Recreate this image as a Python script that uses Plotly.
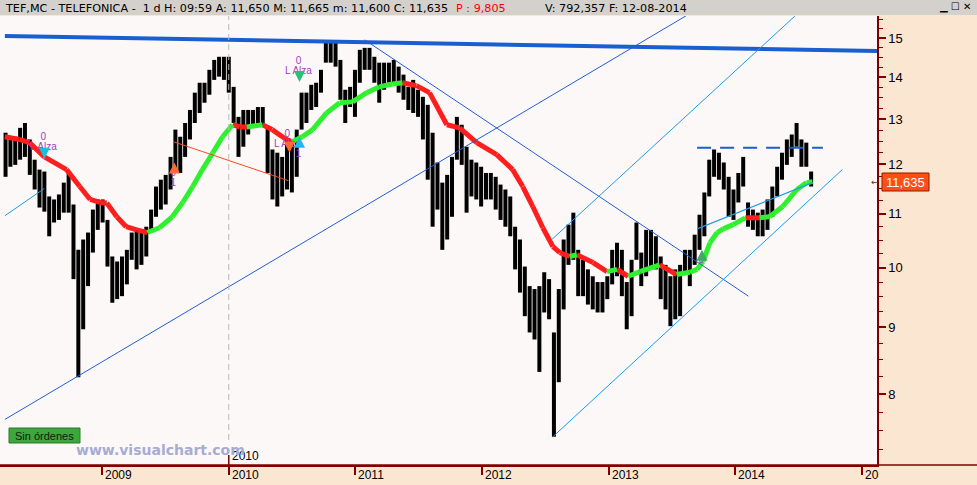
import pandas as pd
import plotly.graph_objects as go

# ---------------- data ----------------
bar_start = "2008-03-28"
bar_periods = 167          # two-week bars
highs = [12.69,12.60,12.60,12.80,12.91,12.54,12.10,11.89,11.85,11.34,
         11.28,11.38,11.62,11.85,11.18,10.32,10.51,10.64,11.08,11.28,
         11.28,10.88,10.20,10.11,10.20,10.32,10.64,10.69,10.69,10.75,
         11.08,11.54,11.68,11.78,12.16,12.76,12.60,12.91,13.21,13.62,
         13.86,13.86,14.18,14.43,14.51,14.51,14.51,13.76,13.05,13.21,
         13.21,13.21,13.28,13.28,12.82,12.32,12.25,12.16,12.54,12.47,
         12.76,13.62,13.62,13.81,13.86,14.18,14.87,14.87,14.87,14.43,
         13.69,13.76,14.18,14.69,14.74,14.74,14.51,14.36,14.36,14.36,
         14.43,14.26,14.06,13.76,13.93,13.69,13.52,13.33,12.69,12.04,
         11.62,11.78,12.16,13.05,12.87,12.38,12.10,12.04,11.95,11.82,
         11.82,11.74,11.58,11.48,11.34,10.75,10.51,10.02,9.68,9.63,
         9.68,9.92,9.80,8.92,9.63,10.51,10.79,11.02,10.32,10.14,
         9.97,9.85,9.75,9.75,9.85,10.32,10.45,10.32,9.75,10.14,
         10.83,10.27,10.69,10.69,10.57,10.20,10.05,9.85,9.97,10.05,
         10.32,10.32,10.60,10.98,11.42,12.10,12.32,12.25,12.04,11.74,
         11.48,11.82,12.16,11.22,11.08,11.02,11.08,11.28,11.54,11.95,
         12.25,12.54,12.65,12.91,12.54,12.47,11.85]
lows = [11.74,11.95,11.99,12.10,12.16,11.78,11.48,11.12,11.04,10.57,
        10.83,10.88,11.02,11.02,9.80,8.24,8.97,9.68,10.27,10.69,
        10.83,10.02,9.40,9.46,9.51,9.71,10.14,9.97,10.05,10.20,
        10.64,10.94,11.08,11.18,11.48,11.89,11.82,12.16,12.54,12.91,
        13.14,13.38,13.57,13.93,14.01,13.93,13.62,12.91,12.16,12.38,
        12.65,12.82,12.82,12.82,11.82,11.28,11.14,11.34,11.48,11.42,
        11.74,12.76,12.91,13.21,13.28,13.62,14.36,14.36,14.26,13.45,
        12.91,13.28,13.05,13.86,14.18,14.18,13.86,13.38,13.69,13.86,
        13.86,13.62,13.45,13.21,13.14,13.05,12.54,11.68,10.75,11.08,
        10.32,10.51,10.94,12.10,11.99,11.02,11.34,11.28,11.14,11.28,
        11.28,11.08,10.88,10.75,10.57,9.97,9.57,9.18,8.92,8.81,
        8.32,9.24,9.13,7.42,8.17,9.29,10.05,10.14,9.51,9.51,
        9.37,9.29,9.24,9.24,9.46,9.71,9.85,9.51,8.97,9.18,
        10.14,9.68,9.85,9.97,9.97,9.46,9.29,9.02,9.13,9.18,
        9.92,9.68,10.05,10.32,10.57,11.34,11.74,11.68,11.48,10.94,
        10.88,11.22,11.54,10.75,10.69,10.57,10.57,10.69,10.94,11.34,
        11.68,11.99,12.16,12.38,11.95,11.95,11.54]

ma_dates = ["2008-03-26","2008-05-07","2008-06-05","2008-07-18","2008-09-20","2008-10-28",
            "2008-11-27","2008-12-25","2009-01-14","2009-02-12","2009-03-11","2009-04-10",
            "2009-05-11","2009-06-15","2009-07-22","2009-08-21","2009-09-19","2009-10-17",
            "2009-11-16","2009-12-14","2010-01-12","2010-02-02","2010-02-22","2010-04-08",
            "2010-05-06","2010-06-16","2010-07-03","2010-08-01","2010-08-31","2010-10-10",
            "2010-11-17","2010-12-24","2011-02-03","2011-03-11","2011-04-18","2011-05-17",
            "2011-06-26","2011-08-03","2011-09-22","2011-10-29","2011-12-17","2012-02-13",
            "2012-03-30","2012-04-28","2012-05-27","2012-06-25","2012-07-24","2012-08-13",
            "2012-09-11","2012-10-01","2012-11-17","2012-12-27","2013-01-25","2013-02-26",
            "2013-04-01","2013-05-28","2013-07-16","2013-08-23","2013-09-13","2013-09-30",
            "2013-10-20","2013-11-10","2013-11-27","2013-12-26","2014-01-30","2014-03-12",
            "2014-04-10","2014-05-18","2014-06-28","2014-07-26","2014-08-12"]
ma_vals = [12.60,12.54,12.47,12.16,11.89,11.54,
           11.28,11.22,11.21,10.94,10.75,10.69,
           10.64,10.73,10.94,11.22,11.54,11.89,
           12.25,12.60,12.87,12.82,12.82,12.87,
           12.76,12.54,12.49,12.60,12.76,13.14,
           13.38,13.40,13.62,13.76,13.83,13.86,
           13.79,13.62,12.87,12.80,12.47,12.21,
           11.89,11.54,11.14,10.73,10.38,10.27,
           10.20,10.23,10.09,9.93,9.97,9.85,
           9.93,10.05,9.88,9.92,9.97,10.11,
           10.45,10.64,10.71,10.79,10.92,10.92,
           10.94,11.14,11.48,11.62,11.64]

# trend lines (date endpoints, price endpoints)
line_resist_thick = (["2008-03-26", "2015-02-14"], [15.05, 14.66])
line_long_diag = (["2008-03-26", "2013-08-23"], [7.65, 15.66])
line_desc = (["2011-01-28", "2014-02-08"], [14.95, 9.51])
line_left_short = (["2008-03-26", "2008-07-18"], [10.96, 11.50])
line_chan_upper = (["2012-07-21", "2014-06-22"], [10.51, 15.59])
line_chan_lower = (["2012-07-24", "2014-11-06"], [7.42, 11.89])
line_support = (["2013-09-13", "2014-08-12"], [10.71, 11.62])
line_dashed = (["2013-09-13", "2014-09-11"], [12.36, 12.36])
line_red = (["2009-07-25", "2010-06-22"], [12.49, 11.66])

sig_text_x = ["2008-07-15", "2008-07-15", "2009-07-25", "2009-07-25", "2010-07-21", "2010-07-21",
              "2010-06-19", "2010-06-19", "2010-07-21", "2013-09-25"]
sig_text_y = [12.58, 12.36, 11.80, 11.60, 14.38, 14.13, 12.64, 12.42, 12.21, 10.13]
sig_text = ["0", "L Alza", "0", "1", "0", "L Alza", "0", "L Alza", "1", "0"]

arrow_x = ["2008-07-18", "2009-07-28", "2010-07-24", "2010-07-24", "2010-06-25", "2013-09-27"]
arrow_y = [12.12, 12.04, 13.88, 12.60, 12.25, 10.32]
arrow_sym = ["arrow-down", "arrow-up", "arrow-down", "arrow-up", "arrow-down", "arrow-up"]
arrow_col = ["#18c0d8", "#ff6a30", "#28c078", "#20b8f0", "#ff6a30", "#40a868"]

y_ticks = [8, 9, 10, 11, 12, 13, 14, 15]
year_ticks = ["2009", "2010", "2011", "2012", "2013", "2014", "2015"]
last_price_label = "11,635"
last_price = 11.635

# ---------------- figure ----------------
W, H = 977, 485
L, R, T, B = 0, 100, 16, 20
pw, ph = W - L - R, H - T - B


def px(xp):
    return (xp - L) / pw


def py(yp):
    return (H - B - yp) / ph


dates = pd.date_range(bar_start, periods=bar_periods, freq="14D")
bx, by = [], []
for d, h, l in zip(dates, highs, lows):
    bx += [d, d, None]
    by += [l, h, None]

fig = go.Figure()
fig.add_trace(go.Scatter(x=bx, y=by, mode="lines", line=dict(color="black", width=4),
                         hoverinfo="skip", showlegend=False))

# moving average coloured by slope
rx, ry, gx, gy = [], [], [], []
for i in range(len(ma_vals) - 1):
    if ma_vals[i + 1] > ma_vals[i]:
        gx += [ma_dates[i], ma_dates[i + 1], None]
        gy += [ma_vals[i], ma_vals[i + 1], None]
    else:
        rx += [ma_dates[i], ma_dates[i + 1], None]
        ry += [ma_vals[i], ma_vals[i + 1], None]
fig.add_trace(go.Scatter(x=rx, y=ry, mode="lines", line=dict(color="#ff1e1e", width=5),
                         showlegend=False, hoverinfo="skip"))
fig.add_trace(go.Scatter(x=gx, y=gy, mode="lines", line=dict(color="#2ef02e", width=5),
                         showlegend=False, hoverinfo="skip"))


def add_line(ln, color, width, dash="solid"):
    fig.add_trace(go.Scatter(x=ln[0], y=ln[1], mode="lines",
                             line=dict(color=color, width=width, dash=dash),
                             showlegend=False, hoverinfo="skip"))


add_line(line_resist_thick, "#1a5fd0", 4)
add_line(line_long_diag, "#1f5fd6", 1)
add_line(line_desc, "#1f5fd6", 1)
add_line(line_left_short, "#1e9be8", 1)
add_line(line_chan_upper, "#1e9be8", 1)
add_line(line_chan_lower, "#1e9be8", 1)
add_line(line_support, "#1e9be8", 1.2)
add_line(line_dashed, "#1a5fd0", 2, dash="14px,9px")
add_line(line_red, "#ff4a1e", 1)

fig.add_trace(go.Scatter(x=sig_text_x, y=sig_text_y, mode="text", text=sig_text,
                         textfont=dict(color="#a040c0", size=10, family="Liberation Sans"),
                         showlegend=False, hoverinfo="skip"))
fig.add_trace(go.Scatter(x=arrow_x, y=arrow_y, mode="markers",
                         marker=dict(symbol=arrow_sym, size=11, color=arrow_col,
                                     line=dict(width=0)),
                         showlegend=False, hoverinfo="skip"))

axis_red = "#800000"
fig.update_xaxes(type="date", range=["2008-03-12", "2015-02-14"], showgrid=False,
                 zeroline=False, showticklabels=False, ticks="outside", ticklen=8,
                 tickcolor=axis_red, tickwidth=1.5, tickvals=[f"{y}-01-01" for y in year_ticks],
                 showline=True, linecolor=axis_red, linewidth=1.5)
minor_vals = [v / 4 for v in range(28, 64) if v % 4 != 0]
fig.update_yaxes(type="log", side="right", range=[0.84875, 1.19293], showgrid=False,
                 zeroline=False, tickvals=y_ticks, ticktext=[str(v) for v in y_ticks],
                 ticks="outside", ticklen=7, tickcolor=axis_red, tickwidth=1.5,
                 tickfont=dict(size=13, color="black", family="Liberation Sans"),
                 showline=True, linecolor=axis_red, linewidth=1.5,
                 minor=dict(tickvals=minor_vals, ticks="outside", ticklen=4,
                            tickcolor=axis_red, tickwidth=1.2, showgrid=False))

shapes = [
    # title bar
    dict(type="rect", xref="paper", yref="paper", x0=px(0), x1=px(W), y0=py(T - 1), y1=py(0),
         fillcolor="#d4d0cc", line=dict(width=0), layer="above"),
    # full-width bottom axis line
    dict(type="line", xref="paper", yref="paper", x0=px(0), x1=px(W), y0=0, y1=0,
         line=dict(color=axis_red, width=1.5)),
    # 2010 marker line
    dict(type="line", xref="x", yref="paper", x0="2010-01-01", x1="2010-01-01",
         y0=py(440), y1=1, line=dict(color="#b8b8b8", width=1, dash="6px,4px")),
    dict(type="line", xref="x", yref="paper", x0="2010-01-01", x1="2010-01-01",
         y0=0, y1=py(455), line=dict(color=axis_red, width=1.5)),
    # Sin ordenes box
    dict(type="rect", xref="paper", yref="paper", x0=px(9), x1=px(80), y0=py(443), y1=py(428),
         fillcolor="#3fa53f", line=dict(color="#2a7a2a", width=1)),
    # last price box
    dict(type="rect", xref="paper", yref="paper", x0=px(882), x1=px(929), y0=py(191), y1=py(173),
         fillcolor="#ff4e14", line=dict(color="#8b1a00", width=1)),
]

title_font = dict(size=11.2, color="black", family="DejaVu Sans")
ann = []
ann.append(dict(xref="paper", yref="paper", x=px(3), y=py(8), xanchor="left", yanchor="middle",
                showarrow=False,
                text="TEF,MC - TELEFONICA -  1 d H: 09:59 A: 11,650 M: 11,665 m: 11,600 C: 11,635",
                font=title_font))
ann.append(dict(xref="paper", yref="paper", x=px(454), y=py(8), xanchor="left", yanchor="middle",
                showarrow=False, text="P : 9,805",
                font=dict(size=11.2, color="#ff0000", family="DejaVu Sans")))
ann.append(dict(xref="paper", yref="paper", x=px(543), y=py(8), xanchor="left", yanchor="middle",
                showarrow=False, text="V: 792,357 F: 12-08-2014", font=title_font))
ann.append(dict(xref="paper", yref="paper", x=px(955), y=py(7), xanchor="center", yanchor="middle",
                showarrow=False, text="▁ ☐ ✕",
                font=dict(size=10, color="black", family="DejaVu Sans")))
for yr in year_ticks:
    ann.append(dict(xref="x", yref="paper", x=f"{yr}-01-01", y=py(475), xanchor="left",
                    yanchor="middle", xshift=1, showarrow=False,
                    text=yr if yr != "2015" else "20",
                    font=dict(size=12, color="black", family="Liberation Sans")))
ann.append(dict(xref="x", yref="paper", x="2010-01-01", y=py(456), xanchor="left",
                yanchor="middle", xshift=1, showarrow=False, text="2010",
                font=dict(size=12, color="black", family="Liberation Sans")))
ann.append(dict(xref="paper", yref="paper", x=px(44.5), y=py(435.5), xanchor="center",
                yanchor="middle", showarrow=False, text="Sin órdenes",
                font=dict(size=11, color="#102010", family="Liberation Sans")))
ann.append(dict(xref="paper", yref="paper", x=px(160), y=py(450), xanchor="center",
                yanchor="middle", showarrow=False, text="www.visualchart.com",
                font=dict(size=14, color="#a6acd2", family="DejaVu Sans", weight="bold")))
ann.append(dict(xref="paper", yref="paper", x=px(905.5), y=py(182), xanchor="center",
                yanchor="middle", showarrow=False, text=last_price_label,
                font=dict(size=13, color="white", family="Liberation Sans")))
ann.append(dict(xref="paper", yref="paper", x=px(881), y=py(182), xanchor="right",
                yanchor="middle", showarrow=False, text="←",
                font=dict(size=9, color="#8b1a00", family="DejaVu Sans")))

fig.update_layout(width=W, height=H, margin=dict(l=L, r=R, t=T, b=B, pad=0),
                  paper_bgcolor="#fbe6d1", plot_bgcolor="#fdf8f8",
                  shapes=shapes, annotations=ann, showlegend=False)

fig.write_html("out.html", config={"displayModeBar": False},
               post_script="document.body.style.margin='0';")
